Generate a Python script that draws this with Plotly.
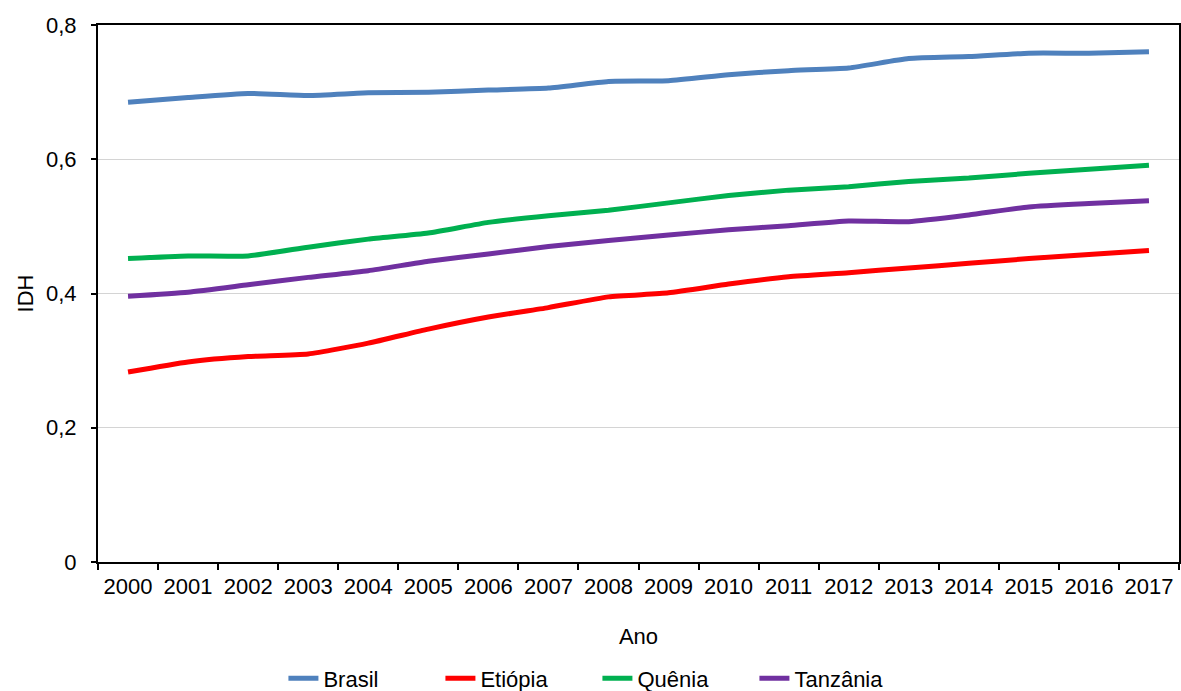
import plotly.graph_objects as go

anos = [str(a) for a in range(2000, 2018)]
brasil = [0.685, 0.692, 0.698, 0.695, 0.699, 0.700, 0.703, 0.706, 0.716, 0.717,
          0.726, 0.732, 0.736, 0.750, 0.753, 0.758, 0.758, 0.760]
etiopia = [0.283, 0.298, 0.306, 0.310, 0.326, 0.347, 0.365, 0.379, 0.395, 0.401,
           0.414, 0.425, 0.431, 0.438, 0.445, 0.452, 0.458, 0.464]
quenia = [0.452, 0.456, 0.456, 0.469, 0.481, 0.490, 0.506, 0.516, 0.524, 0.535,
          0.546, 0.554, 0.559, 0.567, 0.572, 0.579, 0.585, 0.591]
tanzania = [0.396, 0.402, 0.413, 0.424, 0.434, 0.448, 0.459, 0.470, 0.479, 0.487,
            0.495, 0.501, 0.508, 0.507, 0.517, 0.529, 0.534, 0.538]

series = [("Brasil", brasil, "#4F81BD"),
          ("Etiópia", etiopia, "#FF0000"),
          ("Quênia", quenia, "#00B050"),
          ("Tanzânia", tanzania, "#7030A0")]

fig = go.Figure()
for nome, vals, cor in series:
    fig.add_trace(go.Scatter(x=anos, y=vals, name=nome, mode="lines",
                             line=dict(color=cor, width=5, shape="spline", smoothing=0.5)))

font = "Liberation Sans, Arial, sans-serif"
FS = 22
fig.update_layout(
    width=1181, height=691,
    margin=dict(l=98, r=2, t=25, b=129, autoexpand=False),
    paper_bgcolor="white", plot_bgcolor="white",
    separators=",.",
    font=dict(family=font, size=FS, color="#000000"),
    showlegend=True,
    legend=dict(orientation="h", x=0.462, xanchor="center",
                y=-0.217, yanchor="middle",
                font=dict(family=font, size=FS, color="#000000"),
                entrywidth=112, entrywidthmode="pixels",
                tracegroupgap=0, bgcolor="rgba(0,0,0,0)"),
)
fig.update_xaxes(
    type="category", range=[-0.5, 17.5],
    showline=True, linecolor="black", linewidth=2, mirror=True,
    ticks="outside", tickson="boundaries", ticklen=6, tickwidth=2, tickcolor="black",
    ticklabelstandoff=4, tickangle=0,
    showgrid=False,
    title=dict(text="Ano", font=dict(size=FS), standoff=30),
    tickfont=dict(size=FS),
    automargin=False,
)
fig.update_yaxes(
    range=[0, 0.8], tickvals=[0, 0.2, 0.4, 0.6, 0.8],
    showline=True, linecolor="black", linewidth=2, mirror=True,
    ticks="outside", ticklen=5, tickwidth=2, tickcolor="black",
    ticklabelstandoff=10,
    showgrid=True, gridcolor="#D4D4D4", gridwidth=1,
    zeroline=False,
    title=dict(text="IDH", font=dict(size=FS), standoff=6),
    tickfont=dict(size=FS),
    automargin=False,
)

fig.write_html("out.html")
